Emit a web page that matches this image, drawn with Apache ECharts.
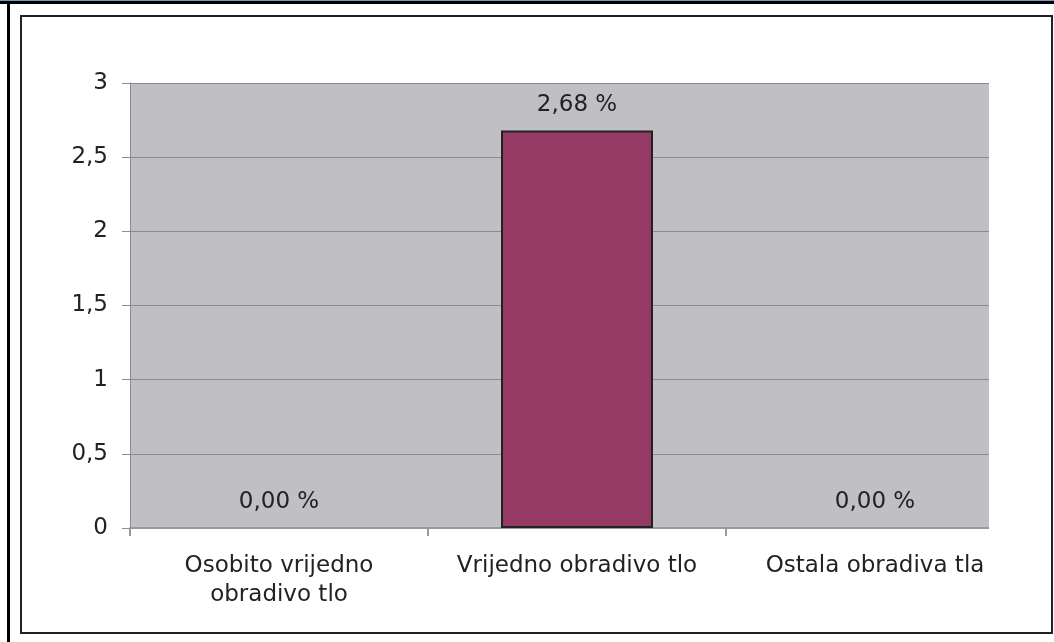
<!DOCTYPE html>
<html>
<head>
<meta charset="utf-8">
<script src="https://cdn.jsdelivr.net/npm/echarts@6/dist/echarts.min.js"></script>
<style>
html,body{margin:0;padding:0;background:#fff;}
#chart{width:1054px;height:642px;}
</style>
</head>
<body>
<div id="chart"></div>
<script>
const categories = ['Osobito vrijedno\nobradivo tlo', 'Vrijedno obradivo tlo', 'Ostala obradiva tla'];
const values = [0, 2.68, 0];
const yMin = 0, yMax = 3, yStep = 0.5;

const FONT = 'DejaVu Sans';
const chart = echarts.init(document.getElementById('chart'), null, {renderer: 'canvas'});
chart.setOption({
  animation: false,
  backgroundColor: '#ffffff',
  grid: {left: 130, top: 83, right: 30, bottom: 114, show: true, backgroundColor: '#c0c0c4', borderWidth: 0},
  xAxis: {
    type: 'category',
    data: categories,
    axisLine: {show: true, lineStyle: {color: '#999999', width: 2}},
    axisTick: {show: true, length: 8, lineStyle: {color: '#999999', width: 2}},
    axisLabel: {color: '#222', fontFamily: FONT, fontSize: 23, lineHeight: 29, margin: 24, interval: 0}
  },
  yAxis: {
    type: 'value',
    min: yMin, max: yMax, interval: yStep,
    axisLine: {show: true, lineStyle: {color: '#8c8c8c', width: 1}},
    axisTick: {show: true, length: 8, lineStyle: {color: '#8c8c8c'}},
    splitLine: {show: true, lineStyle: {color: '#8c8c8c', width: 1}},
    axisLabel: {color: '#222', fontFamily: FONT, fontSize: 23, margin: 22,
      formatter: v => String(v).replace('.', ',')}
  },
  series: [{
    type: 'bar',
    data: values.map(v => ({value: v, itemStyle: {borderWidth: v === 0 ? 0 : 2}})),
    barCategoryGap: '49%',
    itemStyle: {color: '#943a64', borderColor: '#222222', borderWidth: 2},
    label: {show: true, position: 'top', distance: 14, color: '#222', fontFamily: FONT, fontSize: 23,
      formatter: p => p.value.toFixed(2).replace('.', ',') + ' %'}
  }],
  graphic: [
    {type: 'rect', z: 100, shape: {x: 989, y: 70, width: 62, height: 475}, style: {fill: '#ffffff'}},
    {type: 'rect', z: 101, shape: {x: 21, y: 16, width: 1031, height: 617}, style: {fill: 'none', stroke: '#222', lineWidth: 2}},
    {type: 'rect', z: 101, shape: {x: 0, y: 0, width: 1054, height: 1}, style: {fill: '#7b95c4'}},
    {type: 'rect', z: 101, shape: {x: 0, y: 1, width: 1054, height: 3}, style: {fill: '#000000'}},
    {type: 'rect', z: 101, shape: {x: 7, y: 1, width: 3, height: 641}, style: {fill: '#000000'}}
  ]
});
</script>
</body>
</html>
